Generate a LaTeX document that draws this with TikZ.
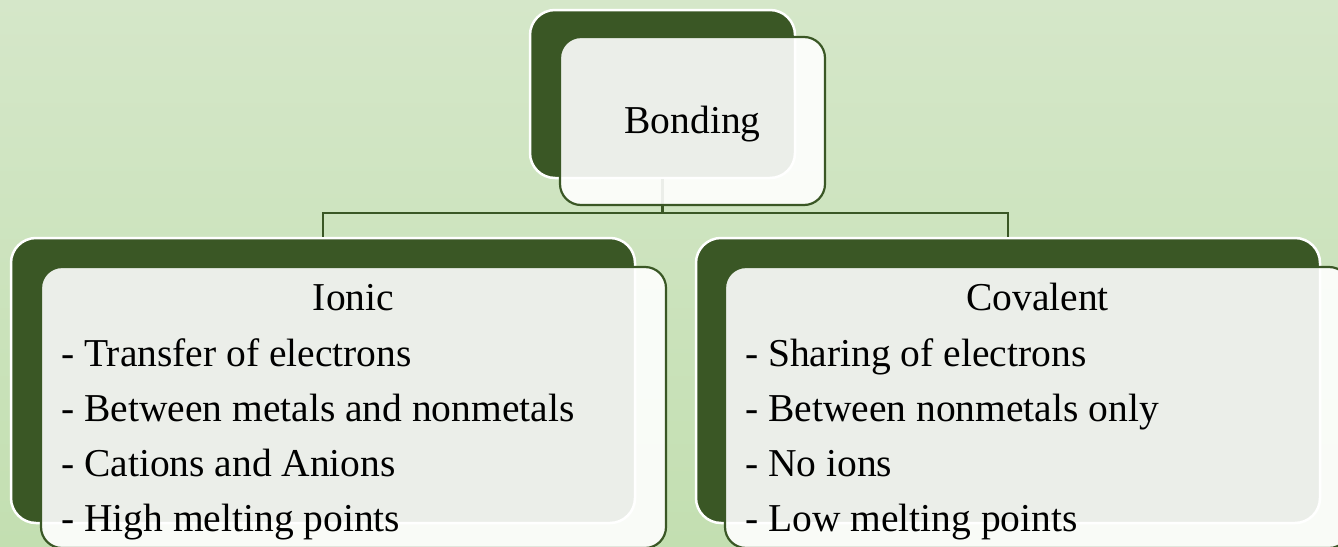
\documentclass[tikz,border=0pt]{standalone}
\usepackage{fontspec}
\setmainfont{Liberation Serif}
\definecolor{darkg}{HTML}{3A5725}
\definecolor{bgtop}{HTML}{D5E7C9}
\definecolor{bgbot}{HTML}{C3DFB1}
\tikzset{
  darkbox/.style={draw=white, line width=2.5pt, fill=darkg, rounded corners=25pt, inner sep=0pt},
  lightbox/.style={draw=darkg, line width=2.2pt, fill=white, fill opacity=0.9, draw opacity=1, rounded corners=21pt, inner sep=0pt},
  conn/.style={draw=darkg, line width=2.4pt},
  title/.style={font=\fontsize{39.5}{44}\selectfont, text=black, inner sep=0pt, anchor=base},
  items/.style={font=\fontsize{39.5}{55}\selectfont, text=black, inner sep=0pt, align=left, anchor=north west},
}
\begin{document}
\begin{tikzpicture}[x=1pt,y=-1pt]
\useasboundingbox (0,0) rectangle (1338,546);
\clip (0,0) rectangle (1338,546);
\shade[top color=bgtop, bottom color=bgbot] (0,0) rectangle (1338,546);
% dark boxes (named, used for connectors)
\node[darkbox, minimum width=265pt, minimum height=168pt] (bondD) at (662.5,94) {};
\node[darkbox, minimum width=624pt, minimum height=285pt] (ionD) at (323,380.5) {};
\node[darkbox, minimum width=624pt, minimum height=285pt] (covD) at (1008,380.5) {};
% connectors
\coordinate (hub) at (662.5,213);
\draw[conn] (hub) -| (ionD.north);
\draw[conn] (hub) -| (covD.north);
\draw[conn] (bondD.south) -- (hub);
% light boxes
\node[lightbox, minimum width=265pt, minimum height=168pt] (bondL) at (692.5,121) {};
\node[lightbox, minimum width=625pt, minimum height=281pt] (ionL) at (353.5,407.5) {};
\node[lightbox, minimum width=625pt, minimum height=281pt] (covL) at (1037.5,407.5) {};
% texts
\node[title] (bondT) at (692.5,133) {Bonding};
\node[title] (ionT) at (353.5,310) {Ionic};
\node[title] (covT) at (1037.5,310) {Covalent};
\node[items] (ionI) at (61,338) {- Transfer of electrons\\- Between metals and nonmetals\\- Cations and Anions\\- High melting points};
\node[items] (covI) at (745,338) {- Sharing of electrons\\- Between nonmetals only\\- No ions\\- Low melting points};
\end{tikzpicture}
\end{document}
